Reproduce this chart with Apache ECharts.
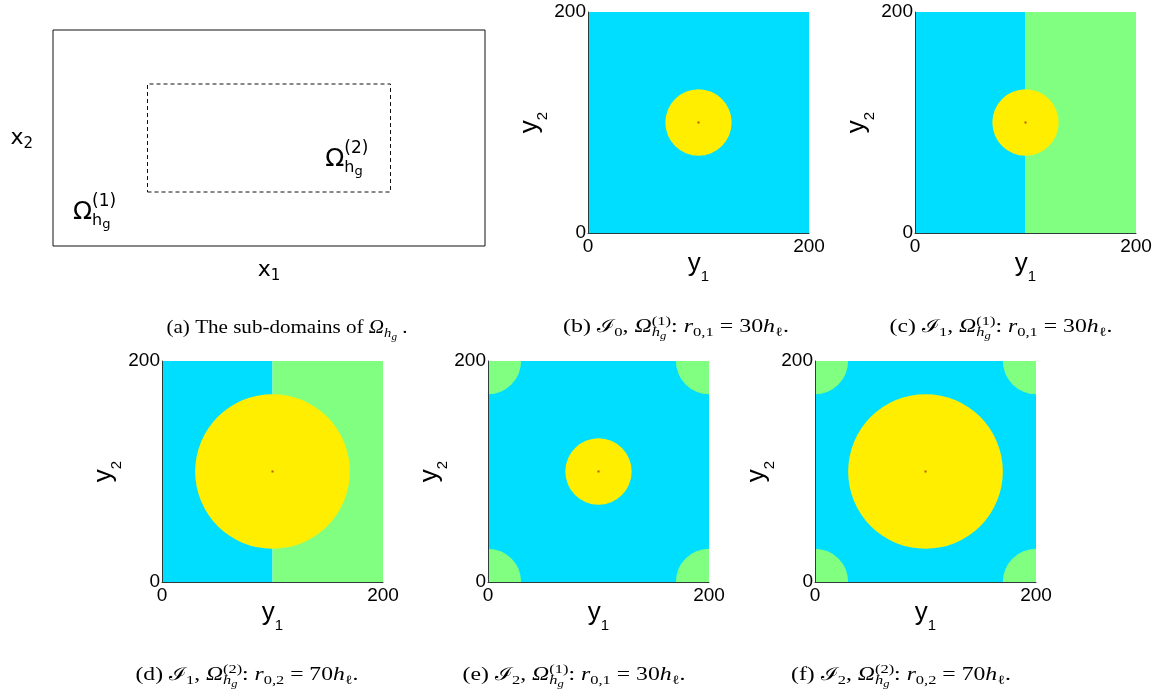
<!DOCTYPE html>
<html><head><meta charset="utf-8">
<script src="https://cdn.jsdelivr.net/npm/echarts@6/dist/echarts.min.js"></script>
<style>html,body{margin:0;padding:0;background:#fff}#c{width:1156px;height:698px}</style>
</head><body><div id="c"></div>
<script>
// ---------------- data ----------------
const axisMin = 0, axisMax = 200;            // y1, y2 axis range (tick labels 0 and 200)
const tickStep = 200;
// panel (a): sub-domains (x0, x1, y0, y1) in domain units
const outerDomain = [0, 4, 0, 2];
const innerDomain = [0.875, 3.125, 0.5, 1.5];
// label anchors of Omega labels inside panel (a), domain units
const omegaAnchors = [[2.52, 0.73, '(2)'], [0.185, 0.24, '(1)']];
// colour index: 0 = cyan phase, 1 = green phase, 2 = yellow inclusion
const palette = ['#00DEFF', '#80FF80', '#FFEE00'];
// rectangles [y1min, y2min, y1max, y2max, colour]
const rectsB = [[0, 0, 200, 200, 0]];
const rectsC = [[0, 0, 100, 200, 0], [100, 0, 200, 200, 1]];
const rectsD = [[0, 0, 100, 200, 0], [100, 0, 200, 200, 1]];
const rectsE = [[0, 0, 200, 200, 0]];
const rectsF = [[0, 0, 200, 200, 0]];
// discs [centre y1, centre y2, radius, colour]
const discsB = [[100, 100, 30, 2]];
const discsC = [[100, 100, 30, 2]];
const discsD = [[100, 100, 70, 2]];
const discsE = [[0, 0, 30, 1], [200, 0, 30, 1], [0, 200, 30, 1], [200, 200, 30, 1], [100, 100, 30, 2]];
const discsF = [[0, 0, 30, 1], [200, 0, 30, 1], [0, 200, 30, 1], [200, 200, 30, 1], [100, 100, 70, 2]];
const centrePoint = [[100, 100]];

// ---------------- fonts / helpers ----------------
const SERIF = '"Liberation Serif", "DejaVu Serif", serif';
const SANS = '"Liberation Sans", Arial, sans-serif';
const DJ = '"DejaVu Sans", sans-serif';

const chart = echarts.init(document.getElementById('c'), null, {renderer: 'canvas'});

const grids = [], xAxes = [], yAxes = [], series = [];

function rectPath(d) { return [[d[0], d[2]], [d[1], d[2]], [d[1], d[3]], [d[0], d[3]], [d[0], d[2]]]; }

// panel (a)
grids.push({left: 53, top: 30, width: 432, height: 216});
const nameRichA = {
  m: {fontSize: 22, fontFamily: DJ, color: '#000', lineHeight: 28, verticalAlign: 'middle'},
  s: {fontSize: 15, fontFamily: DJ, color: '#000', lineHeight: 15, verticalAlign: 'bottom'}
};
xAxes.push({gridIndex: 0, type: 'value', min: outerDomain[0], max: outerDomain[1],
  axisLine: {show: false}, axisTick: {show: false}, axisLabel: {show: false}, splitLine: {show: false},
  name: '{m|x}{s|1}', nameLocation: 'middle', nameGap: 10, nameMoveOverlap: false, nameTextStyle: {rich: nameRichA}});
yAxes.push({gridIndex: 0, type: 'value', min: outerDomain[2], max: outerDomain[3],
  axisLine: {show: false}, axisTick: {show: false}, axisLabel: {show: false}, splitLine: {show: false},
  name: '{m|x}{s|2}', nameLocation: 'middle', nameGap: 20, nameRotate: 0, nameMoveOverlap: false, nameTextStyle: {rich: nameRichA}});
series.push({type: 'line', xAxisIndex: 0, yAxisIndex: 0, data: rectPath(outerDomain), symbol: 'none',
  clip: false, silent: true, lineStyle: {color: '#111', width: 1}});
series.push({type: 'line', xAxisIndex: 0, yAxisIndex: 0, data: rectPath(innerDomain), symbol: 'none',
  clip: false, silent: true, lineStyle: {color: '#111', width: 1, type: [4, 3]}});

const nameRich = {
  m: {fontSize: 26, fontFamily: SANS, color: '#000', lineHeight: 40, verticalAlign: 'middle'},
  s: {fontSize: 15, fontFamily: SANS, color: '#000', lineHeight: 15, verticalAlign: 'bottom'}
};

function addPanel(left, top, rects, discs) {
  const gi = grids.length;
  grids.push({left: left, top: top, width: 221, height: 221});
  const common = {gridIndex: gi, type: 'value', min: axisMin, max: axisMax, interval: tickStep, z: 5,
    axisLine: {show: true, onZero: false, lineStyle: {color: '#2e3b3b', width: 1}},
    axisTick: {show: false}, splitLine: {show: false}, nameMoveOverlap: false,
    nameLocation: 'middle', nameTextStyle: {rich: nameRich}};
  xAxes.push(Object.assign({}, common, {
    axisLabel: {fontSize: 19, fontFamily: SANS, color: '#000', margin: 4},
    name: '{m|y}{s|1}', nameGap: 11}));
  yAxes.push(Object.assign({}, common, {
    axisLabel: {fontSize: 19, fontFamily: SANS, color: '#000', margin: 2},
    name: '{m|y}{s|2}', nameGap: 38, nameRotate: 90}));
  series.push({type: 'custom', xAxisIndex: gi, yAxisIndex: gi, data: rects, clip: true, silent: true,
    encode: {x: [0, 2], y: [1, 3]},
    renderItem: function (params, api) {
      const p0 = api.coord([api.value(0), api.value(1)]);
      const p1 = api.coord([api.value(2), api.value(3)]);
      return {type: 'rect', shape: {x: Math.min(p0[0], p1[0]), y: Math.min(p0[1], p1[1]),
        width: Math.abs(p1[0] - p0[0]), height: Math.abs(p1[1] - p0[1])},
        style: {fill: palette[api.value(4)]}};
    }});
  series.push({type: 'custom', xAxisIndex: gi, yAxisIndex: gi, data: discs, clip: true, silent: true,
    encode: {x: 0, y: 1},
    renderItem: function (params, api) {
      const c = api.coord([api.value(0), api.value(1)]);
      const r = api.size([api.value(2), 0])[0];
      return {type: 'circle', shape: {cx: c[0], cy: c[1], r: r}, style: {fill: palette[api.value(3)]}};
    }});
  series.push({type: 'scatter', xAxisIndex: gi, yAxisIndex: gi, data: centrePoint, symbol: 'rect',
    symbolSize: 2, silent: true, itemStyle: {color: '#B03000'}, z: 3});
}
addPanel(588, 12, rectsB, discsB);
addPanel(915, 12, rectsC, discsC);
addPanel(162, 361, rectsD, discsD);
addPanel(488, 361, rectsE, discsE);
addPanel(815, 361, rectsF, discsF);

chart.setOption({
  animation: false,
  backgroundColor: '#fff',
  grid: grids, xAxis: xAxes, yAxis: yAxes, series: series
});

// ---------------- text layout (captions and labels) ----------------
const ctx = document.createElement('canvas').getContext('2d');
function tw(text, font) { ctx.font = font; return ctx.measureText(text).width; }
const I = (t) => ({t: t, lv: 'base', it: true});
const Sb = (t, it) => ({t: t, lv: 'sub', it: it});
const Sp = (t) => ({t: t, lv: 'sup'});
const Ss = (t, it) => ({t: t, lv: 'subsub', it: it});
const ST = (a, b) => ({stack: [a, b]});

function layoutText(tokens, levels, family, anchorX, baseY, align, targetW) {
  const items = []; let x = 0;
  const put = (tok, x0) => {
    const L = levels[tok.lv];
    const font = (tok.it ? 'italic ' : '') + L.size + 'px ' + family;
    items.push({t: tok.t, font: font, x: x0, y: L.dy, size: L.size});
    return tw(tok.t, font);
  };
  for (const tok of tokens) {
    if (typeof tok === 'string') x += put({t: tok, lv: 'base'}, x);
    else if (tok.stack) {
      let m = 0;
      for (const br of tok.stack) { let xx = x; for (const t of br) xx += put(t, xx); m = Math.max(m, xx - x); }
      x += m;
    } else x += put(tok, x);
  }
  const sx = targetW ? targetW / x : 1;
  const x0 = align === 'center' ? anchorX - x * sx / 2 : anchorX;
  return items.map(it => ({type: 'text', x: x0 + it.x * sx, y: baseY + it.y - 0.32 * it.size,
    scaleX: sx, silent: true, z: 10,
    style: {text: it.t, x: 0, y: 0, font: it.font, fill: '#000', textAlign: 'left',
      textVerticalAlign: 'middle', verticalAlign: 'middle'}}));
}

const capLevels = {base: {size: 18, dy: 0}, sub: {size: 12.5, dy: 4}, sup: {size: 12.5, dy: -7.5}, subsub: {size: 9.5, dy: 7}};
const omegaStack = (k) => [I('Ω'), ST([Sp('(' + k + ')')], [Sb('h', true), Ss('g', true)])];
function capTokens(tag, n, k, sub, val) {
  return ['(' + tag + ') ', 'ℐ', Sb(String(n)), ', '].concat(omegaStack(k))
    .concat([': ', I('r'), Sb(sub), ' = ' + val, I('h'), Sb('ℓ'), '.']);
}
const captions = [
  [['(a) The sub-domains of ', I('Ω'), Sb('h', true), Ss('g', true), ' .'], 287, 334, 241],
  [capTokens('b', 0, 1, '0,1', 30), 676, 333, 226],
  [capTokens('c', 1, 1, '0,1', 30), 1001, 333, 223],
  [capTokens('d', 1, 2, '0,2', 70), 247, 681, 223],
  [capTokens('e', 2, 1, '0,1', 30), 574, 681, 223],
  [capTokens('f', 2, 2, '0,2', 70), 901, 681, 220]
];
let graphics = [];
for (const c of captions) graphics = graphics.concat(layoutText(c[0], capLevels, SERIF, c[1], c[2], 'center', c[3]));

const omLevels = {base: {size: 25, dy: 0}, sup: {size: 17, dy: -13}, sub: {size: 16, dy: 6}, subsub: {size: 13, dy: 9}};
for (const a of omegaAnchors) {
  const p = chart.convertToPixel({gridIndex: 0}, [a[0], a[1]]);
  const toks = [{t: 'Ω', lv: 'base'}, ST([Sp(a[2])], [Sb('h', false), Ss('g', false)])];
  graphics = graphics.concat(layoutText(toks, omLevels, DJ, p[0], p[1], 'left'));
}
chart.setOption({graphic: {elements: graphics}});
</script></body></html>
